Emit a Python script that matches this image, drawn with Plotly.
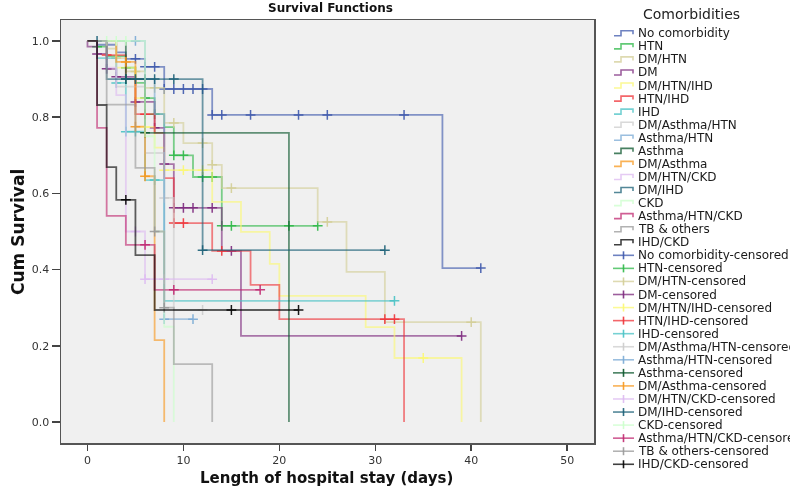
import plotly.graph_objects as go

# ---------------- data ----------------
groups = ["No comorbidity", "HTN", "DM/HTN", "DM", "DM/HTN/IHD", "HTN/IHD", "IHD",
          "DM/Asthma/HTN", "Asthma/HTN", "Asthma", "DM/Asthma", "DM/HTN/CKD",
          "DM/IHD", "CKD", "Asthma/HTN/CKD", "TB & others", "IHD/CKD"]

colors = ["#3E58AC", "#2EB848", "#D3CE97", "#7C287D", "#FBF873", "#EF3338", "#48C2C5",
          "#CCCCCC", "#7AAAD5", "#0A562C", "#F8981D", "#DDBAF1", "#1A5F76", "#CCFFCC",
          "#C02870", "#999999", "#000000"]

nocom_t = [1, 3, 4, 6, 8, 13, 37]
nocom_s = [0.99, 0.97, 0.953, 0.932, 0.874, 0.806, 0.404]
nocom_c = [5, 6, 7, 8, 9, 10, 11, 12, 13, 14, 17, 22, 25, 33, 41]

htn_t = [1, 2, 4, 5, 6, 7, 8, 9, 11, 14]
htn_s = [0.985, 0.96, 0.93, 0.89, 0.85, 0.808, 0.774, 0.70, 0.643, 0.515]
htn_c = [1, 4, 6, 7, 9, 10, 12, 13, 14, 15, 21, 24]

dmhtn_t = [2, 3, 4, 6, 8, 10, 13, 14, 24, 27, 31, 41]
dmhtn_s = [0.98, 0.955, 0.92, 0.877, 0.785, 0.732, 0.675, 0.614, 0.525, 0.394, 0.262, 0.0]
dmhtn_c = [3, 5, 7, 9, 12, 13, 15, 25, 40]

dm_t = [0, 1, 2, 3, 5, 7, 8, 9, 14, 16]
dm_s = [0.985, 0.966, 0.927, 0.906, 0.84, 0.772, 0.677, 0.562, 0.449, 0.226]
dm_c = [1, 2, 3, 5, 7, 8, 9, 10, 11, 13, 15, 39]

dmhtnihd_t = [3, 5, 6, 7, 8, 13, 16, 19, 20, 29, 32, 39]
dmhtnihd_s = [0.93, 0.85, 0.774, 0.72, 0.661, 0.578, 0.499, 0.415, 0.331, 0.249, 0.168, 0.0]
dmhtnihd_c = [6, 8, 10, 12, 35]

htnihd_t = [2, 4, 5, 7, 8, 9, 13, 17, 20, 33]
htnihd_s = [0.963, 0.9, 0.808, 0.759, 0.64, 0.522, 0.449, 0.36, 0.27, 0.0]
htnihd_c = [2, 6, 9, 10, 14, 31, 32]

ihd_t = [1, 3, 4, 6, 8]
ihd_s = [0.955, 0.89, 0.762, 0.635, 0.318]
ihd_c = [3, 4, 5, 7, 32]

dmasthtn_t = [3, 6, 8, 9]
dmasthtn_s = [0.88, 0.706, 0.588, 0.294]
dmasthtn_c = [8, 12]

asthtn_t = [6, 7, 8]
asthtn_s = [0.9, 0.808, 0.27]
asthtn_c = [5, 8, 11]

asth_t = [4, 6, 21]
asth_s = [0.9, 0.759, 0.0]
asth_c = [4, 6]

dmasth_t = [3, 5, 6, 7, 8]
dmasth_s = [0.945, 0.775, 0.645, 0.215, 0.0]
dmasth_c = [4, 5, 6]

dmhtnckd_t = [2, 3, 4, 6]
dmhtnckd_s = [0.93, 0.858, 0.5, 0.375]
dmhtnckd_c = [5, 6, 8, 13]

dmihd_t = [2, 12]
dmihd_s = [0.9, 0.451]
dmihd_c = [1, 4, 5, 6, 7, 9, 12, 31]

ckd_t = [6, 7, 8, 9]
ckd_s = [0.75, 0.5, 0.25, 0.0]
ckd_c = [2, 3, 4]

asthtnckd_t = [1, 2, 4, 7]
asthtnckd_s = [0.772, 0.541, 0.465, 0.347]
asthtnckd_c = [6, 9, 18]

tb_t = [2, 5, 7, 8, 9, 13]
tb_s = [0.833, 0.667, 0.5, 0.30, 0.152, 0.0]
tb_c = [7, 8]

ihdckd_t = [1, 2, 3, 5, 7]
ihdckd_s = [0.832, 0.669, 0.583, 0.438, 0.294]
ihdckd_c = [4, 15, 22]

x_ticks = [0, 10, 20, 30, 40, 50]
y_ticks = [0.0, 0.2, 0.4, 0.6, 0.8, 1.0]

series = [
    (nocom_t, nocom_s, nocom_c), (htn_t, htn_s, htn_c), (dmhtn_t, dmhtn_s, dmhtn_c),
    (dm_t, dm_s, dm_c), (dmhtnihd_t, dmhtnihd_s, dmhtnihd_c), (htnihd_t, htnihd_s, htnihd_c),
    (ihd_t, ihd_s, ihd_c), (dmasthtn_t, dmasthtn_s, dmasthtn_c), (asthtn_t, asthtn_s, asthtn_c),
    (asth_t, asth_s, asth_c), (dmasth_t, dmasth_s, dmasth_c), (dmhtnckd_t, dmhtnckd_s, dmhtnckd_c),
    (dmihd_t, dmihd_s, dmihd_c), (ckd_t, ckd_s, ckd_c), (asthtnckd_t, asthtnckd_s, asthtnckd_c),
    (tb_t, tb_s, tb_c), (ihdckd_t, ihdckd_s, ihdckd_c),
]

# ---------------- figure ----------------
W, H = 790, 489
L, R, T, B = 61, 594, 20, 443


def px2x(px):
    return (px - L) / (R - L)


def py2y(py):
    return (B - py) / (B - T)


def surv_at(t_list, s_list, tc):
    v = 1.0
    for t, s in zip(t_list, s_list):
        if t <= tc:
            v = s
    return v


fig = go.Figure()
LINE_OP = 0.62

for (t, s, c), col in zip(series, colors):
    x = [0] + list(t)
    y = [1.0] + list(s)
    if s[-1] > 0 and c and max(c) > t[-1]:
        x.append(max(c))
        y.append(s[-1])
    fig.add_trace(go.Scatter(x=x, y=y, mode="lines",
                             line=dict(color=col, width=1.8, shape="hv"),
                             opacity=LINE_OP, showlegend=False, hoverinfo="skip"))
    cy = [surv_at(t, s, tc) for tc in c]
    fig.add_trace(go.Scatter(x=c, y=cy, mode="markers",
                             marker=dict(symbol="cross-thin", size=7, color=col,
                                         line=dict(color=col, width=1.5)),
                             opacity=0.9, showlegend=False, hoverinfo="skip"))

# ---------------- manual legend ----------------
shapes = []
annotations = []
FONT = "DejaVu Sans"

annotations.append(dict(x=px2x(691), y=py2y(14), xref="paper", yref="paper",
                        text="Comorbidities", showarrow=False, xanchor="center",
                        yanchor="middle", font=dict(family=FONT, size=14, color="#222")))

labels = groups + [g + "-censored" for g in groups]
for i, lab in enumerate(labels):
    py = 33.3 + 13.06 * i
    col = colors[i % len(colors)]
    annotations.append(dict(x=px2x(636), y=py2y(py), xref="paper", yref="paper",
                            text=lab, showarrow=False, xanchor="left", yanchor="middle",
                            font=dict(family=FONT, size=12, color="#1a1a1a")))
    if i < len(groups):
        path = "M {a},{b} L {c},{b} L {c},{d} L {e},{d} L {e},{f}".format(
            a=px2x(614), b=py2y(py + 2.5), c=px2x(621), d=py2y(py - 2.5),
            e=px2x(633), f=py2y(py + 1))
        shapes.append(dict(type="path", path=path, xref="paper", yref="paper",
                           line=dict(color=col, width=1.6), opacity=0.75))
    else:
        shapes.append(dict(type="line", xref="paper", yref="paper",
                           x0=px2x(613), x1=px2x(634), y0=py2y(py), y1=py2y(py),
                           line=dict(color=col, width=1.6), opacity=0.75))
        shapes.append(dict(type="line", xref="paper", yref="paper",
                           x0=px2x(623.5), x1=px2x(623.5), y0=py2y(py - 4), y1=py2y(py + 4),
                           line=dict(color=col, width=1.6), opacity=0.9))

# titles
annotations.append(dict(x=px2x(330), y=py2y(8), xref="paper", yref="paper",
                        text="<b>Survival Functions</b>", showarrow=False,
                        xanchor="center", yanchor="middle",
                        font=dict(family=FONT, size=12, color="#111")))
annotations.append(dict(x=px2x(326), y=py2y(478), xref="paper", yref="paper",
                        text="<b>Length of hospital stay (days)</b>", showarrow=False,
                        xanchor="center", yanchor="middle",
                        font=dict(family=FONT, size=15, color="#111")))
annotations.append(dict(x=px2x(18), y=py2y(232), xref="paper", yref="paper",
                        text="<b>Cum Survival</b>", showarrow=False, textangle=-90,
                        xanchor="center", yanchor="middle",
                        font=dict(family=FONT, size=17, color="#111")))

fig.update_layout(
    width=W, height=H,
    margin=dict(l=L, r=W - R, t=T, b=H - B, pad=0),
    paper_bgcolor="white", plot_bgcolor="#F0F0F0",
    shapes=shapes, annotations=annotations,
    showlegend=False, hovermode=False,
    xaxis=dict(range=[-2.76, 52.8], tickvals=x_ticks, ticks="outside", ticklen=6,
               tickwidth=1.5, tickcolor="#444", showgrid=False, zeroline=False,
               showline=True, linecolor="#555", linewidth=1.5, mirror=True,
               tickfont=dict(family=FONT, size=11, color="#333")),
    yaxis=dict(range=[-0.055, 1.055], tickvals=y_ticks, tickformat=".1f",
               ticks="outside", ticklen=8, tickwidth=1.5, tickcolor="#444",
               showgrid=False, zeroline=False, showline=True, linecolor="#555",
               linewidth=1.5, mirror=True,
               tickfont=dict(family=FONT, size=11, color="#333")),
)

fig.write_html("out.html", config={"displayModeBar": False, "staticPlot": True},
               post_script="document.body.style.margin='0px';document.body.style.overflow='hidden';")
